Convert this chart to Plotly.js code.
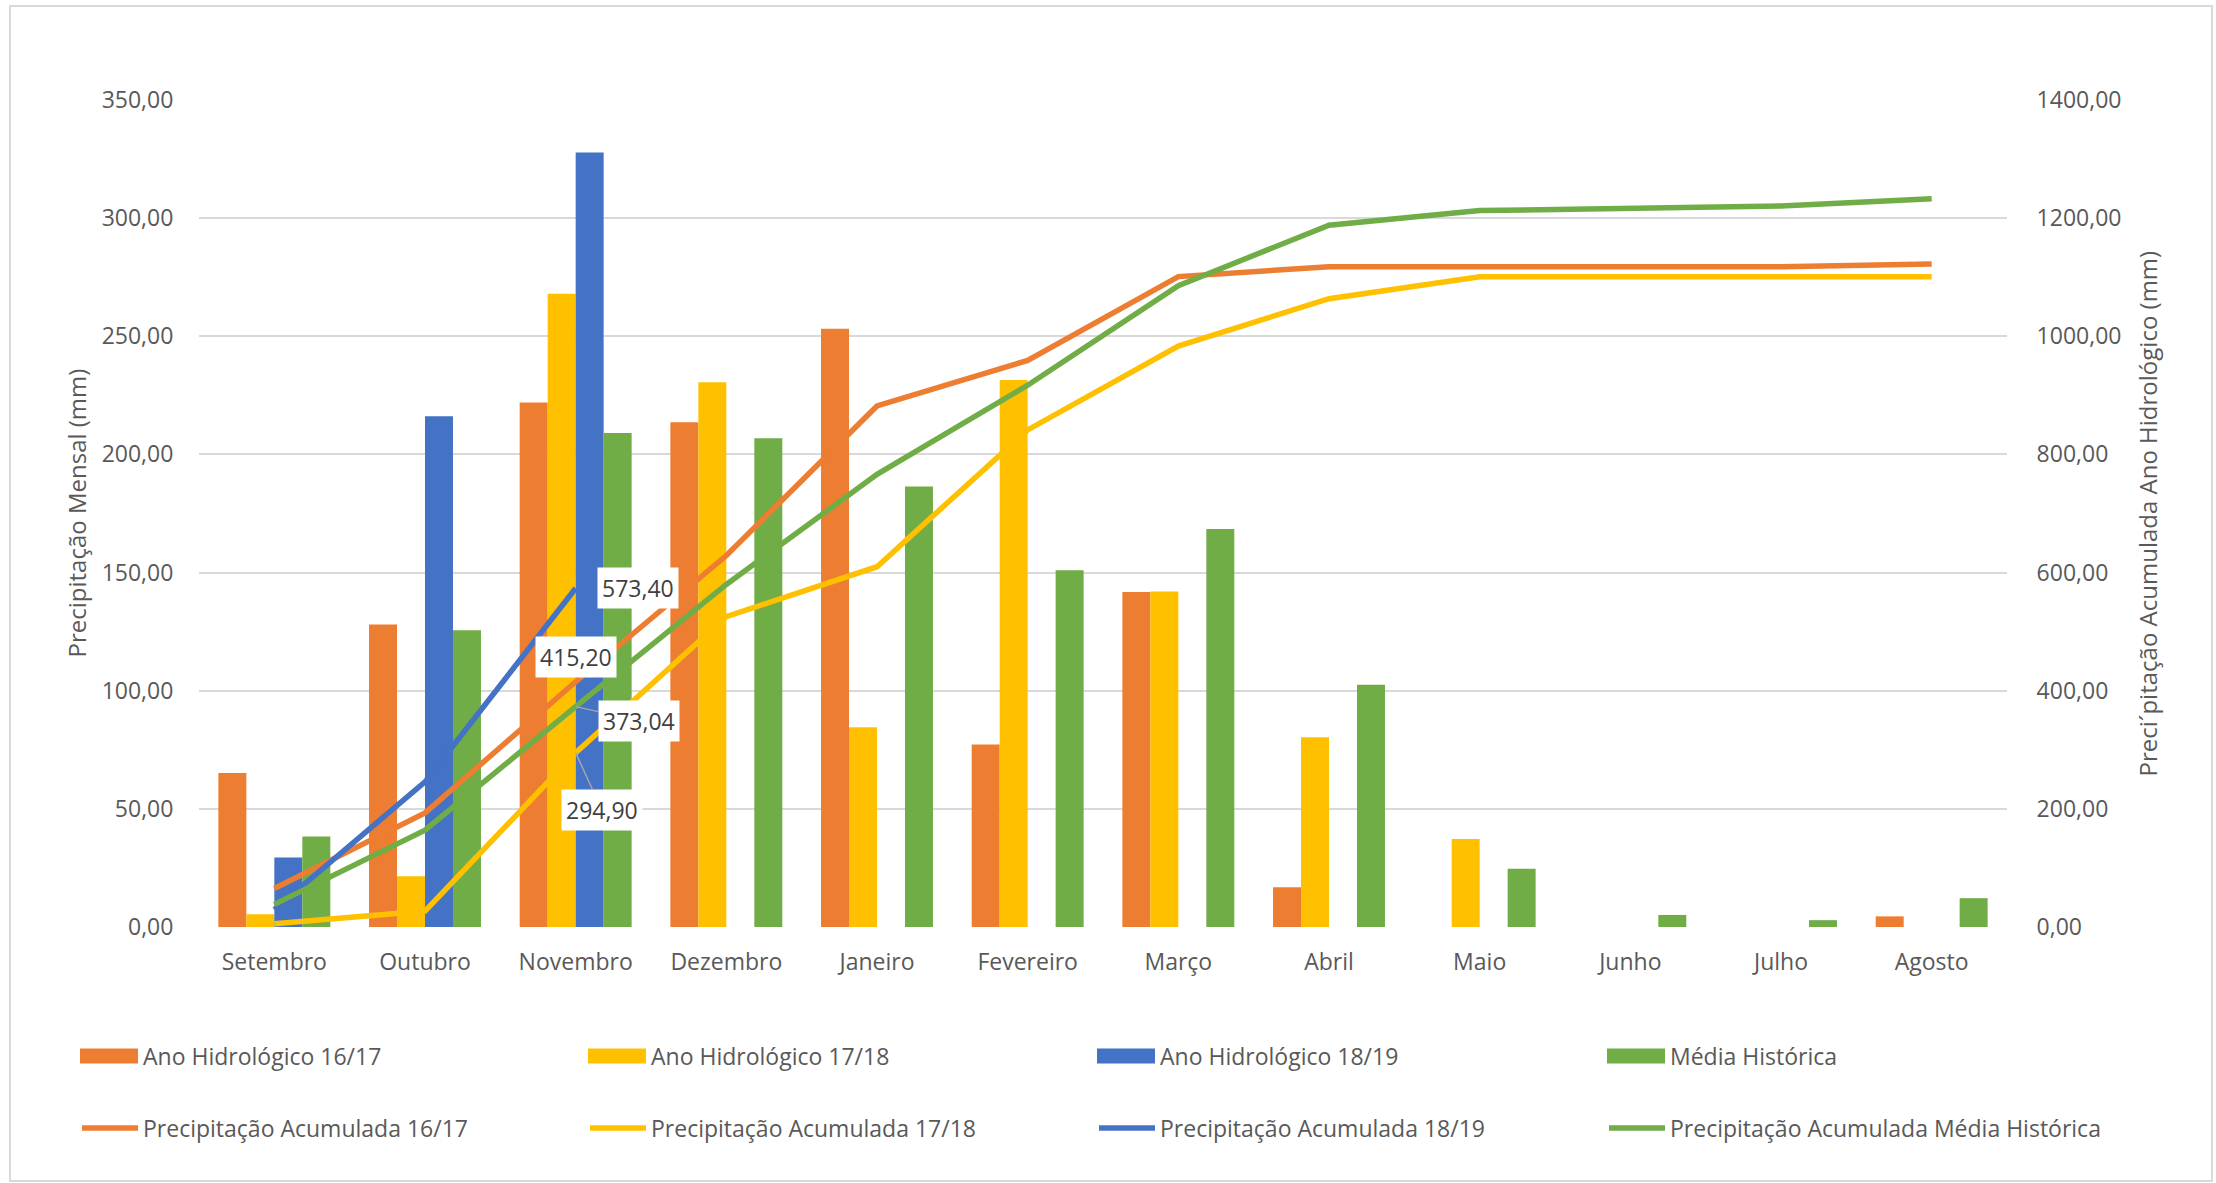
<!DOCTYPE html>
<html>
<head>
<meta charset="utf-8">
<script src="https://cdn.plot.ly/plotly-3.0.1.min.js"></script>
<style>
  html, body { margin: 0; padding: 0; background: #ffffff; }
  #chart { width: 2216px; height: 1183px; }
</style>
</head>
<body>
<div id="chart"></div>
<script>
// Months of the hydrological year (September to August)
const months = ['Setembro', 'Outubro', 'Novembro', 'Dezembro', 'Janeiro', 'Fevereiro',
                'Março', 'Abril', 'Maio', 'Junho', 'Julho', 'Agosto'];

// Monthly rainfall (mm)
const rain1617 = [65.2, 128.0, 222.0, 213.6, 253.2, 77.2, 141.8, 16.8, 0, 0, 0, 4.5];
const rain1718 = [5.4, 21.5, 268.0, 230.5, 84.5, 231.5, 142.0, 80.3, 37.2, 0, 0, 0];
const rain1819 = [29.4, 216.2, 327.8, null, null, null, null, null, null, null, null, null];
const rainHist = [38.34, 125.6, 209.1, 206.8, 186.4, 151.0, 168.4, 102.5, 24.6, 5.1, 2.9, 12.2];

// Accumulated rainfall over the hydrological year (mm)
const acc1617 = [65.2, 193.2, 415.2, 628.8, 882.0, 959.2, 1101.0, 1117.8, 1117.8, 1117.8, 1117.8, 1122.3];
const acc1718 = [5.4, 26.9, 294.9, 525.4, 609.9, 841.4, 983.4, 1063.7, 1100.9, 1100.9, 1100.9, 1100.9];
const acc1819 = [29.4, 245.6, 573.4, null, null, null, null, null, null, null, null, null];
const accHist = [38.34, 163.94, 373.04, 579.84, 766.24, 917.24, 1085.64, 1188.14, 1212.74, 1217.84, 1220.74, 1232.94];

// Series names
const barNames = ['Ano Hidrológico 16/17', 'Ano Hidrológico 17/18', 'Ano Hidrológico 18/19', 'Média Histórica'];
const lineNames = ['Precipitação Acumulada 16/17', 'Precipitação Acumulada 17/18',
                   'Precipitação Acumulada 18/19', 'Precipitação Acumulada Média Histórica'];

const colors = ['#ED7D31', '#FFC000', '#4472C4', '#70AD47'];
const textColor = '#595959';
const fontFamily = '"Open Sans", "Noto Sans", sans-serif';

// Figure geometry (pixels)
const W = 2216, H = 1183;
const M = { l: 199, r: 209, t: 100, b: 256 };
const PW = W - M.l - M.r, PH = H - M.t - M.b;
const px = x => (x - M.l) / PW;          // pixel x -> paper x
const py = y => (H - M.b - y) / PH;      // pixel y -> paper y

const fmt = v => v.toFixed(2).replace('.', ',');

const barSeries = [rain1617, rain1718, rain1819, rainHist];
const lineSeries = [acc1617, acc1718, acc1819, accHist];

const traces = [];
barSeries.forEach((vals, i) => {
  traces.push({
    type: 'bar', name: barNames[i], x: months, y: vals, yaxis: 'y',
    marker: { color: colors[i], line: { width: 0 } },
    showlegend: false, hoverinfo: 'x+y+name'
  });
});
lineSeries.forEach((vals, i) => {
  traces.push({
    type: 'scatter', mode: 'lines', name: lineNames[i], x: months, y: vals, yaxis: 'y2',
    line: { color: colors[i], width: 5.5 },
    connectgaps: false, showlegend: false, hoverinfo: 'x+y+name'
  });
});

// Data labels on the November accumulated values
const nov = months[2];
const labelFont = { family: fontFamily, size: 23, color: '#404040' };
const labelBase = { xref: 'x', yref: 'y2', x: nov, bgcolor: '#ffffff', borderpad: 4, font: labelFont };
const annotations = [
  Object.assign({}, labelBase, { y: acc1819[2], text: fmt(acc1819[2]), showarrow: false, xshift: 62, yshift: 0 }),
  Object.assign({}, labelBase, { y: acc1617[2], text: fmt(acc1617[2]), showarrow: false, xshift: 0, yshift: 25 }),
  Object.assign({}, labelBase, { y: accHist[2], text: fmt(accHist[2]), showarrow: true, arrowhead: 0,
    arrowwidth: 1.5, arrowcolor: '#A6A6A6', ax: 63, ay: 14, standoff: 0 }),
  Object.assign({}, labelBase, { y: acc1718[2], text: fmt(acc1718[2]), showarrow: true, arrowhead: 0,
    arrowwidth: 1.5, arrowcolor: '#A6A6A6', ax: 26, ay: 57, standoff: 0 })
];

// Axis titles
annotations.push({
  xref: 'paper', yref: 'paper', x: px(76), y: 0.5, textangle: -90, showarrow: false,
  text: 'Precipitação Mensal (mm)', font: { family: fontFamily, size: 24, color: textColor },
  xanchor: 'center', yanchor: 'middle'
});
annotations.push({
  xref: 'paper', yref: 'paper', x: px(2147), y: 0.5, textangle: -90, showarrow: false,
  text: 'Preci´pitação Acumulada Ano Hidrológico (mm)', font: { family: fontFamily, size: 24, color: textColor },
  xanchor: 'center', yanchor: 'middle'
});

// Legend: two rows, bars on top, accumulated lines below
const shapes = [];
const colLeft = [80, 588, 1097, 1607];
const rowY = [1056, 1128];
const symW = 58;
for (let i = 0; i < 4; i++) {
  shapes.push({
    type: 'rect', xref: 'paper', yref: 'paper',
    x0: px(colLeft[i]), x1: px(colLeft[i] + symW), y0: py(rowY[0] + 7.5), y1: py(rowY[0] - 7.5),
    fillcolor: colors[i], line: { width: 0 }
  });
  annotations.push({
    xref: 'paper', yref: 'paper', x: px(colLeft[i] + symW + 3), y: py(rowY[0]), xanchor: 'left', yanchor: 'middle',
    showarrow: false, text: barNames[i], font: { family: fontFamily, size: 23, color: textColor }
  });
  shapes.push({
    type: 'line', xref: 'paper', yref: 'paper',
    x0: px(colLeft[i] + 2), x1: px(colLeft[i] + symW), y0: py(rowY[1]), y1: py(rowY[1]),
    line: { color: colors[i], width: 5.5 }
  });
  annotations.push({
    xref: 'paper', yref: 'paper', x: px(colLeft[i] + symW + 3), y: py(rowY[1]), xanchor: 'left', yanchor: 'middle',
    showarrow: false, text: lineNames[i], font: { family: fontFamily, size: 23, color: textColor }
  });
}

// Chart area border
shapes.push({
  type: 'rect', xref: 'paper', yref: 'paper', layer: 'below',
  x0: px(10), x1: px(2212), y0: py(1181), y1: py(6),
  line: { color: '#D9D9D9', width: 2 }, fillcolor: 'rgba(0,0,0,0)'
});

const layout = {
  width: W, height: H,
  margin: M,
  paper_bgcolor: '#ffffff', plot_bgcolor: '#ffffff',
  separators: ',.',
  barmode: 'group', bargap: 0.257, bargroupgap: 0,
  showlegend: false,
  font: { family: fontFamily, size: 23, color: textColor },
  xaxis: {
    type: 'category', showgrid: false, zeroline: false, showline: false,
    ticks: 'outside', ticklen: 14, tickcolor: 'rgba(0,0,0,0)',
    tickfont: { family: fontFamily, size: 23, color: textColor }
  },
  yaxis: {
    range: [0, 350], dtick: 50, tick0: 0, tickformat: '.2f',
    showgrid: true, gridcolor: '#D9D9D9', gridwidth: 2, zeroline: false, showline: false,
    ticks: 'outside', ticklen: 20, tickcolor: 'rgba(0,0,0,0)',
    tickfont: { family: fontFamily, size: 23, color: textColor }
  },
  yaxis2: {
    overlaying: 'y', side: 'right', range: [0, 1400], dtick: 200, tick0: 0, tickformat: '.2f',
    showgrid: false, zeroline: false, showline: false,
    ticks: 'outside', ticklen: 24, tickcolor: 'rgba(0,0,0,0)',
    tickfont: { family: fontFamily, size: 23, color: textColor }
  },
  annotations: annotations,
  shapes: shapes
};

Plotly.newPlot('chart', traces, layout, { displayModeBar: false, staticPlot: true });
</script>
</body>
</html>
